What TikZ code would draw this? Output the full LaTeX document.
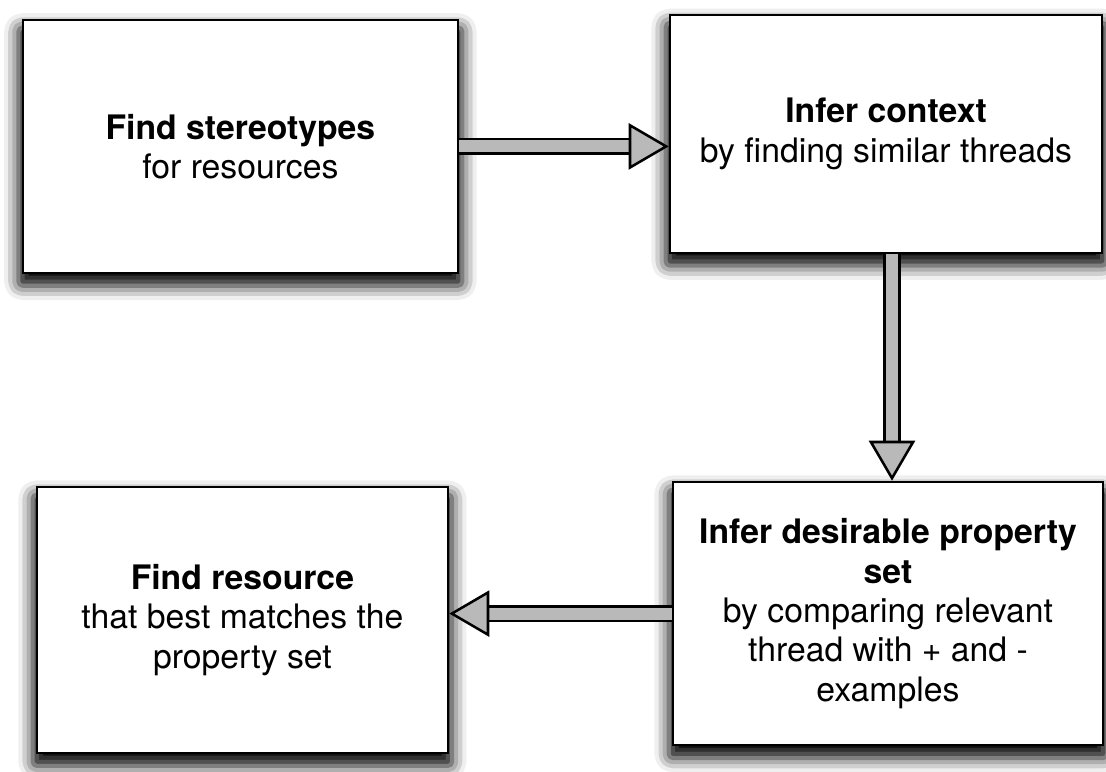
\documentclass[tikz,border=0pt]{standalone}
\usepackage{fontspec}
\setmainfont{TeX Gyre Heros}
\usepackage{tikz}
\usetikzlibrary{arrows.meta, positioning, calc, shadows.blur}
\tikzset{
  stage/.style={draw, line width=1.8pt, fill=white, align=center, inner sep=0pt,
    font=\fontsize{24}{28}\selectfont,
    blur shadow={shadow xshift=0pt, shadow yshift=-0.25cm, shadow blur radius=0.35cm,
      shadow blur extra rounding=0.1cm, shadow opacity=100, shadow scale=1.02},
    minimum width=#1},
  bigarr/.style={double=gray!55, double distance=0.3cm, line width=1.8pt,
    -{Triangle[length=1cm, width=1.15cm, fill=gray!55]}},
}
\begin{document}
\begin{tikzpicture}
    \useasboundingbox (0,0) rectangle (27.65,-19.275);
    \node[stage=10.88cm, minimum height=6.33cm] (find) at (6.01,-3.66)
      {\textbf{Find stereotypes}\\for resources};
    \node[stage=10.8cm, minimum height=5.95cm] (ctx) at (22.15,-3.35)
      {\textbf{Infer context}\\by finding similar threads};
    \node[stage=10.75cm, minimum height=6.58cm] (prop) at (22.2,-15.34)
      {\textbf{Infer desirable property}\\\textbf{set}\\by comparing relevant\\thread with + and -\\examples};
    \node[stage=10.28cm, minimum height=6.65cm] (res) at (6.06,-15.5)
      {\textbf{Find resource}\\that best matches the\\property set};
    \draw[bigarr] (find.east) -- (find.east -| ctx.west);
    \draw[bigarr] ([xshift=0.15cm]ctx.south) -- ([xshift=0.15cm]ctx.south |- prop.north);
    \draw[bigarr] (prop.west) -- (prop.west -| res.east);
  \end{tikzpicture}
\end{document}
